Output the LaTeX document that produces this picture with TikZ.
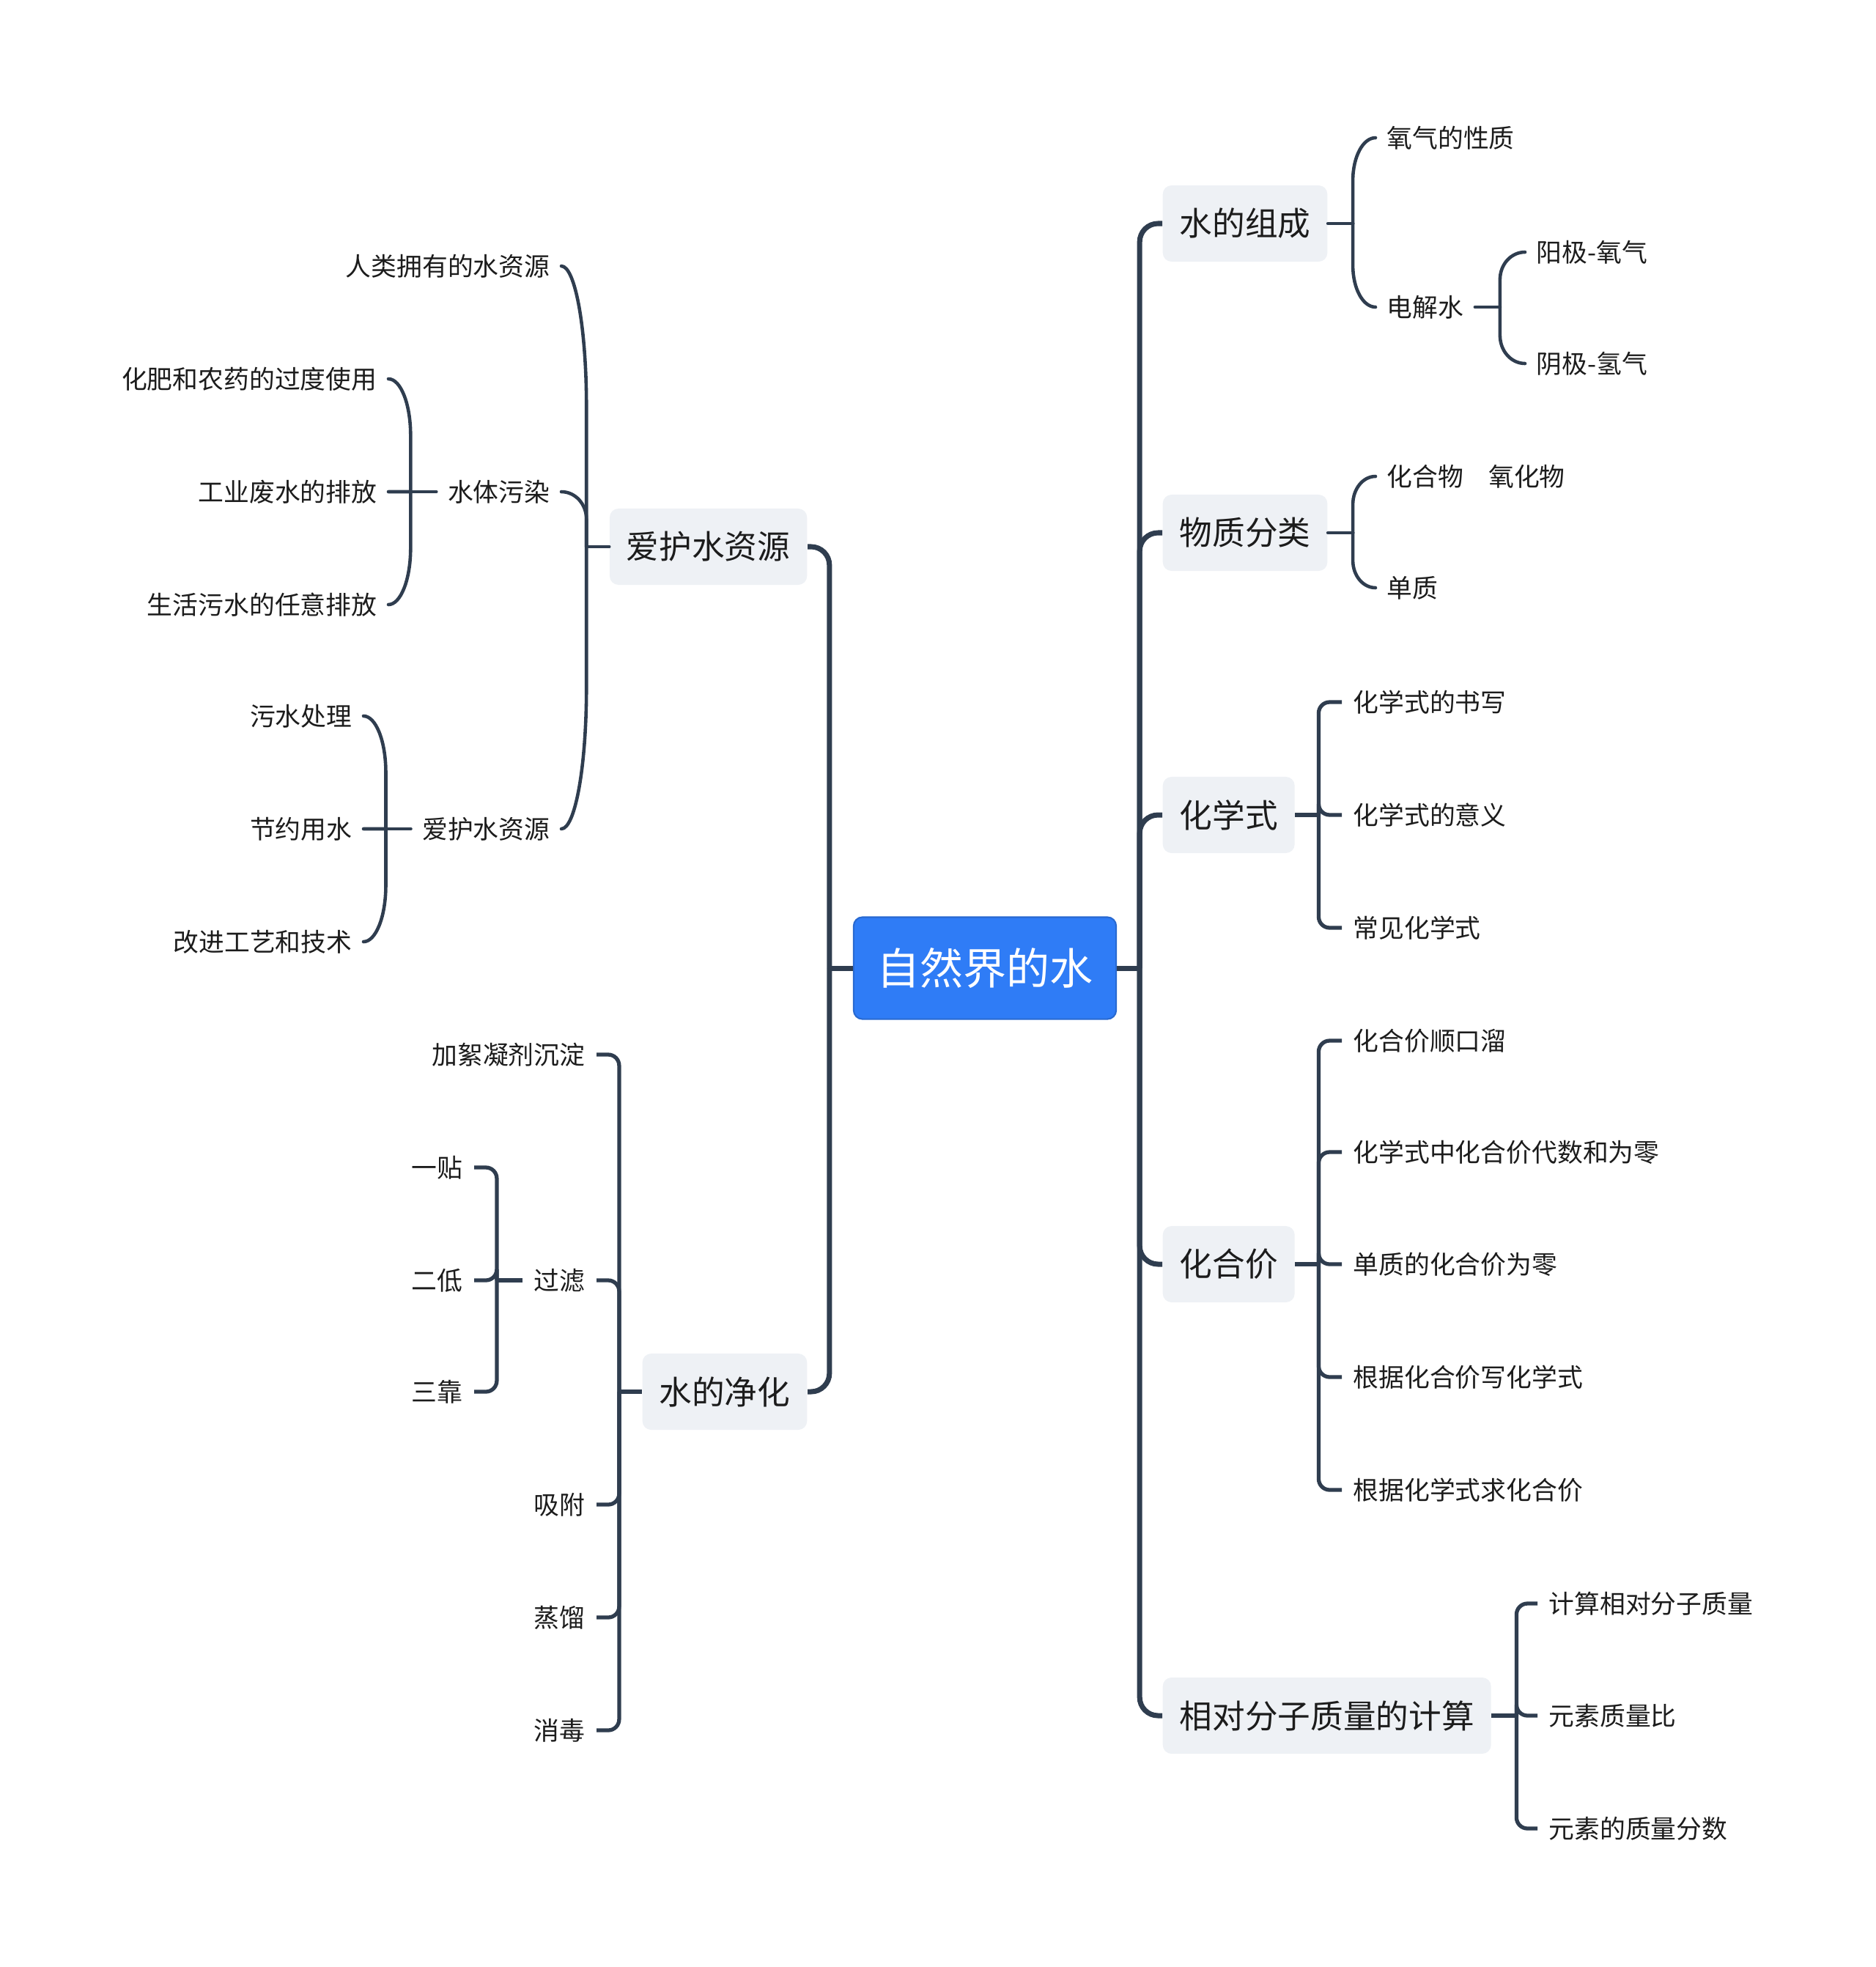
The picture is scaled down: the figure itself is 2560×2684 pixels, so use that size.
\documentclass[tikz,border=0pt]{standalone}
\usepackage{fontspec}
\newfontfamily\cjk{Noto Sans CJK SC}
\usetikzlibrary{calc}
\definecolor{linecol}{HTML}{2F3D4F}
\definecolor{boxfill}{HTML}{EEF1F5}
\definecolor{rootblue}{HTML}{2F7CF6}
\definecolor{txt}{HTML}{1C1C1C}
\tikzset{
  rootbox/.style={fill=rootblue, draw=rootblue!85!black, line width=0.6pt, rounded corners=0.12cm,
    text=white, font=\cjk\fontsize{16.8pt}{18pt}\selectfont, minimum width=3.58cm, minimum height=1.39cm, inner sep=0},
  topic/.style={fill=boxfill, rounded corners=0.12cm, text=txt, font=\cjk\fontsize{12.7pt}{14pt}\selectfont,
    minimum height=1.04cm, inner xsep=0.23cm, inner ysep=0},
  leaf/.style={text=txt, font=\cjk\fontsize{9.9pt}{11pt}\selectfont, inner xsep=0.15cm, inner ysep=0.05cm},
  trunk/.style={draw=linecol, line width=2pt, rounded corners=0.25cm},
  twig/.style={draw=linecol, line width=1.5pt, rounded corners=0.15cm},
  curl/.style={draw=linecol, line width=1.3pt, line cap=round},
}
% curved branch from a bracket point to a child anchor
\newcommand{\curvedtwig}[2]{\draw[curl] (#1) -- ($(#1)!0.5!(#1 |- #2)$)
  .. controls ($(#1)!0.78!(#1 |- #2)$) and ($(#1 |- #2)!0.45!(#2)$) .. (#2);}
\begin{document}
\begin{tikzpicture}[x=0.01cm, y=-0.01cm]
\useasboundingbox (0,0) rectangle (2560,2684);
\node[rootbox] (root) at (1344,1321) {自然界的水};
% right side
\node[topic, anchor=west] (zc) at (1586,305) {水的组成};
\node[topic, anchor=west] (fl) at (1586,727) {物质分类};
\node[topic, anchor=west] (hx) at (1586,1112) {化学式};
\node[topic, anchor=west] (hj) at (1586,1725) {化合价};
\node[topic, anchor=west] (xd) at (1586,2341) {相对分子质量的计算};
\node[leaf, anchor=west] (zc1) at (1877,188) {氧气的性质};
\node[leaf, anchor=west] (zc2) at (1877,419) {电解水};
\node[leaf, anchor=west] (dj1) at (2081,344) {阳极-氧气};
\node[leaf, anchor=west] (dj2) at (2081,496) {阴极-氢气};
\node[leaf, anchor=west] (fl1) at (1877,650) {化合物\hspace{0.34cm}氧化物};
\node[leaf, anchor=west] (fl2) at (1877,802) {单质};
\foreach \i/\y/\t in {1/958/化学式的书写, 2/1112/化学式的意义, 3/1266/常见化学式}
  \node[leaf, anchor=west] (hx\i) at (1831,\y) {\t};
\foreach \i/\y/\t in {1/1420/化合价顺口溜, 2/1572/化学式中化合价代数和为零, 3/1725/单质的化合价为零,
    4/1879/根据化合价写化学式, 5/2033/根据化学式求化合价}
  \node[leaf, anchor=west] (hj\i) at (1831,\y) {\t};
\foreach \i/\y/\t in {1/2188/计算相对分子质量, 2/2341/元素质量比, 3/2495/元素的质量分数}
  \node[leaf, anchor=west] (xd\i) at (2098,\y) {\t};
% left side
\node[topic, anchor=east] (aw) at (1102,746) {爱护水资源};
\node[topic, anchor=east] (jh) at (1102,1899) {水的净化};
\node[leaf, anchor=east] (aw1) at (766,363) {人类拥有的水资源};
\node[leaf, anchor=east] (aw2) at (766,671) {水体污染};
\node[leaf, anchor=east] (aw3) at (766,1131) {爱护水资源};
\foreach \i/\y/\t in {1/517/化肥和农药的过度使用, 2/671/工业废水的排放, 3/825/生活污水的任意排放}
  \node[leaf, anchor=east] (wr\i) at (530,\y) {\t};
\foreach \i/\y/\t in {1/977/污水处理, 2/1131/节约用水, 3/1285/改进工艺和技术}
  \node[leaf, anchor=east] (bh\i) at (496,\y) {\t};
\foreach \i/\y/\t in {1/1439/加絮凝剂沉淀, 2/1747/过滤, 3/2053/吸附, 4/2207/蒸馏, 5/2361/消毒}
  \node[leaf, anchor=east] (jh\i) at (814,\y) {\t};
\foreach \i/\y/\t in {1/1593/一贴, 2/1747/二低, 3/1899/三靠}
  \node[leaf, anchor=east] (gl\i) at (647,\y) {\t};
% main branches
\coordinate (rt) at ([xshift=0.31cm]root.east);
\coordinate (lt) at ([xshift=-0.32cm]root.west);
\draw[trunk] (root.east) -- (rt);
\draw[trunk] (root.west) -- (lt);
\foreach \n in {zc,fl,hx,hj,xd}
  \draw[trunk] (rt) |- (\n.west);
\foreach \n in {aw,jh}
  \draw[trunk] (lt) |- (\n.east);
% bracket points
\coordinate (zcb) at ([xshift=0.34cm]zc.east);
\coordinate (flb) at ([xshift=0.34cm]fl.east);
\coordinate (djb) at ([xshift=0.34cm]zc2.east);
\coordinate (hxb) at ([xshift=0.32cm]hx.east);
\coordinate (hjb) at ([xshift=0.32cm]hj.east);
\coordinate (xdb) at ([xshift=0.34cm]xd.east);
\coordinate (awb) at ([xshift=-0.31cm]aw.west);
\coordinate (wrb) at ([xshift=-0.35cm]aw2.west);
\coordinate (bhb) at ([xshift=-0.34cm]aw3.west);
\coordinate (jhb) at ([xshift=-0.31cm]jh.west);
\coordinate (glb) at ([xshift=-0.35cm]jh2.west);
% curved brackets
\draw[curl] (zc.east) -- (zcb);
\draw[curl] (fl.east) -- (flb);
\draw[curl] (zc2.east) -- (djb);
\draw[curl] (aw.west) -- (awb);
\draw[curl] (aw2.west) -- (wrb);
\draw[curl] (aw3.west) -- (bhb);
\curvedtwig{zcb}{zc1.west}
\curvedtwig{zcb}{zc2.west}
\curvedtwig{djb}{dj1.west}
\curvedtwig{djb}{dj2.west}
\curvedtwig{flb}{fl1.west}
\curvedtwig{flb}{fl2.west}
\foreach \i in {1,2,3} {
  \curvedtwig{awb}{aw\i.east}
  \curvedtwig{wrb}{wr\i.east}
  \curvedtwig{bhb}{bh\i.east}
}
% square brackets
\draw[twig] (hx.east) -- (hxb);
\draw[twig] (hj.east) -- (hjb);
\draw[twig] (xd.east) -- (xdb);
\draw[twig] (jh.west) -- (jhb);
\draw[twig] (jh2.west) -- (glb);
\foreach \i in {1,2,3} {
  \draw[twig] (hxb) |- (hx\i.west);
  \draw[twig] (xdb) |- (xd\i.west);
  \draw[twig] (glb) |- (gl\i.east);
}
\foreach \i in {1,...,5} {
  \draw[twig] (hjb) |- (hj\i.west);
  \draw[twig] (jhb) |- (jh\i.east);
}
\end{tikzpicture}
\end{document}
